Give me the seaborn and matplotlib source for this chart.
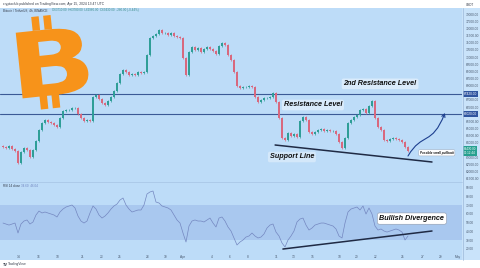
import numpy as np
import pandas as pd
import matplotlib
matplotlib.use("Agg")
import matplotlib.pyplot as plt
import matplotlib.transforms as mtrans
from matplotlib.patches import Rectangle, FancyArrowPatch, PathPatch
from matplotlib.path import Path
from matplotlib.textpath import TextPath
from matplotlib.font_manager import FontProperties
from matplotlib.lines import Line2D
import seaborn as sns

# ---- data -----------------------------------------------------------------
first_open = 63800
close = [
    63710, 63640, 63780, 63570, 63430, 62590, 63360, 63640, 63500, 63010,
    63500, 64130, 64900, 65390, 65600, 65460, 65390, 65250, 65110, 65740,
    66230, 66300, 66300, 66440, 66440, 66020, 65740, 65530, 65600, 65530,
    67210, 67350, 67070, 66790, 66650, 66930, 67210, 67630, 68190, 68820,
    69100, 68960, 68750, 68820, 68750, 68960, 68890, 68960, 70150, 71340,
    71480, 71620, 71900, 71690, 71690, 71550, 71690, 71480, 71410, 71340,
    69940, 68750, 70360, 70710, 70500, 70640, 70360, 70570, 70710, 70570,
    70430, 70220, 70780, 70990, 70850, 70150, 69800, 68960, 67980, 67840,
    67910, 67910, 67980, 67910, 67210, 66860, 67000, 67140, 67140, 67210,
    67490, 66860, 65740, 64340, 64200, 64690, 64480, 64620, 64410, 65530,
    65810, 65600, 64760, 64620, 64760, 64900, 64970, 64830, 64900, 64830,
    64830, 64620, 64060, 63640, 64340, 65390, 65600, 65810, 65950, 66300,
    66370, 66090, 66580, 66930, 65740, 65110, 64900, 64200, 64130, 64270,
    64340, 64270, 64200, 64060, 63710, 63430,
]
rsi = [
    49.4, 48.3, 47.1, 48.3, 49.4, 38.0, 48.3, 51.7, 52.9, 48.3,
    50.6, 58.6, 63.1, 60.9, 62.0, 60.9, 59.7, 58.6, 56.3, 62.0,
    65.4, 67.7, 68.9, 70.0, 66.6, 57.4, 51.7, 49.4, 51.7, 60.9,
    68.9, 65.4, 58.6, 55.1, 57.4, 60.9, 65.4, 68.9, 71.1, 75.7,
    78.0, 70.0, 65.4, 62.0, 63.1, 64.3, 64.3, 70.0, 82.6, 84.9,
    86.0, 73.4, 72.3, 68.9, 67.7, 66.6, 64.3, 58.6, 52.9, 49.4,
    38.0, 27.7, 46.0, 51.7, 52.9, 51.7, 51.7, 50.6, 52.9, 55.1,
    49.4, 44.9, 55.1, 56.3, 51.7, 44.9, 40.3, 32.3, 24.3, 27.7,
    30.0, 33.4, 34.6, 38.0, 34.6, 32.3, 33.4, 36.9, 43.7, 47.1,
    48.3, 39.1, 34.6, 26.6, 22.0, 30.0, 34.6, 40.3, 50.6, 54.0,
    55.1, 47.1, 41.4, 43.7, 47.1, 48.3, 49.4, 49.4, 48.3, 47.1,
    46.0, 42.6, 34.6, 32.3, 49.4, 62.0, 65.4, 66.6, 67.7, 64.3,
    68.9, 59.7, 66.6, 59.7, 46.0, 41.4, 42.6, 40.3, 39.1, 40.3,
    41.4, 42.6, 41.4, 39.1, 30.0, 34.6,
]
resistance_2nd = 67420
resistance_1st = 66020
support_x = [90.7, 143.0]
support_y = [63850, 62660]
divergence_x = [93.3, 143.0]
divergence_y = [19.7, 40.3]
pullback_x = [135.0, 139.7, 143.0, 147.3]
pullback_y = [63080, 64760, 63780, 66090]
time_pos = [5.3, 11.7, 18, 26.7, 32.7, 39, 48.3, 54.3, 60, 69.7, 75.7,
            81.7, 91, 97, 103.3, 112, 118, 124.3, 133.3, 139.7, 145.7, 151.7]
time_labels = ["14", "16", "18", "21", "23", "25", "28", "30", "Apr", "4", "6",
               "8", "11", "13", "15", "18", "20", "22", "25", "27", "29", "May"]

# ---- style ----------------------------------------------------------------
sns.set_theme(style="white")
plt.rcParams["font.family"] = ["Liberation Sans", "DejaVu Sans"]

BG = "#bddcf8"
SCALE_BG = "#c9e3fa"
BAND = "#a9c8ef"
GREEN = "#2f9e97"
RED = "#d8687e"
LEVEL = "#3b5a96"
DARK = "#1f2a44"
ORANGE = "#f7931a"
WICK = 70

W, H = 480, 268
def fx(px):
    return px / W
def fy(py):
    return 1 - py / H

fig = plt.figure(figsize=(4.8, 2.68), dpi=100)
fig.patch.set_facecolor("white")
fig.add_artist(Rectangle((0, fy(260)), 1, 252 / H, transform=fig.transFigure,
                         fc=BG, ec="none", zorder=-10))
fig.add_artist(Rectangle((fx(462), fy(260)), 18 / W, 252 / H, transform=fig.transFigure,
                         fc=SCALE_BG, ec="none", zorder=-9))
fig.add_artist(Line2D([fx(462.5)] * 2, [fy(8), fy(260)], transform=fig.transFigure,
                      color="#9db9d8", lw=0.5))

ax = fig.add_axes([0, fy(182), 462 / W, 174 / H])
ax2 = fig.add_axes([0, fy(252), 462 / W, 70 / H], sharex=ax)
for a in (ax, ax2):
    a.set_facecolor("none")
    for s in a.spines.values():
        s.set_visible(False)

n = len(close)
df = pd.DataFrame({"i": np.arange(n), "close": close, "rsi": rsi})
df["open"] = [first_open] + close[:-1]
lo = np.minimum(df.open, df.close)
hi = np.maximum(df.open, df.close)
colors = np.where(df.close >= df.open, GREEN, RED)

# candles
ax.vlines(df.i, lo - WICK, hi + WICK, colors=colors, lw=0.5, zorder=2)
ax.bar(df.i, np.maximum(hi - lo, 25), bottom=lo, width=0.6, color=colors,
       linewidth=0, zorder=3)

ax.set_xlim(-1, 153)
ax.set_ylim(61260, 73440)

# horizontal levels
for lvl in (resistance_2nd, resistance_1st):
    ax.axhline(lvl, color=LEVEL, lw=0.8, zorder=1)
ax.plot(support_x, support_y, color=DARK, lw=1.1, zorder=4)

# projected move
verts = list(zip(pullback_x, pullback_y))
path = Path(verts, [Path.MOVETO, Path.CURVE4, Path.CURVE4, Path.CURVE4])
ax.add_patch(FancyArrowPatch(path=path, arrowstyle="->,head_length=2.2,head_width=1.2",
                             color="#1d3f8f", lw=0.8, zorder=5))

lab = dict(family=["Liberation Sans", "DejaVu Sans"], weight="bold", style="italic",
           color="#111111", ha="center", va="center", zorder=6)
ax.text(125.7, 68130, "2nd Resistance Level", fontsize=5.2,
        bbox=dict(boxstyle="round,pad=0.25", fc="white", ec="none", alpha=0.45), **lab)
ax.text(103.3, 66650, "Resistance Level", fontsize=5.2,
        bbox=dict(boxstyle="round,pad=0.25", fc="white", ec="none", alpha=0.45), **lab)
ax.text(96.3, 63010, "Support Line", fontsize=5.2,
        bbox=dict(boxstyle="round,pad=0.25", fc="white", ec="none", alpha=0.35), **lab)
ax.text(144.6, 63300, "Possible small pullback", fontsize=2.2,
        family=["Liberation Sans", "DejaVu Sans"], weight="bold", style="italic",
        color="#111111", ha="center", va="center", zorder=6,
        bbox=dict(boxstyle="round,pad=0.35", fc="white", ec="#9aa4b5", lw=0.3))

# price scale (plain ticks are left out where a highlighted price sits)
highlights = [resistance_2nd, resistance_1st, close[-1]]
price_ticks = [v for v in np.arange(61500, 73001, 500)
               if min(abs(v - h) for h in highlights) > 380]
ax.yaxis.tick_right()
ax.set_yticks(price_ticks)
ax.set_yticklabels([f"{v:.2f}" for v in price_ticks])
ax.tick_params(axis="y", length=0, pad=2.5, labelsize=2.3, colors="#4a5a70")
ax.tick_params(axis="x", length=0, labelbottom=False)
ax.set_xlabel("")
ax.set_ylabel("")
blend = mtrans.blended_transform_factory(ax.transAxes, ax.transData)
for lvl in (resistance_2nd, resistance_1st):
    ax.text(1.004, lvl, f"{lvl:.2f}", transform=blend, fontsize=2.3, color="white",
            ha="left", va="center", clip_on=False,
            bbox=dict(boxstyle="square,pad=0.3", fc="#2f55a0", ec="none"))
ax.text(1.004, close[-1], f"{close[-1]:.2f}\n01:12:44", transform=blend, fontsize=2.2,
        color="white", ha="left", va="center", clip_on=False, linespacing=1.1,
        bbox=dict(boxstyle="square,pad=0.35", fc="#26a08f", ec="none"))

# RSI pane
ax2.axhspan(30, 70, color=BAND, lw=0, zorder=0)
sns.lineplot(data=df, x="i", y="rsi", ax=ax2, color="#7487c0", lw=0.5, zorder=3)
ax2.plot(divergence_x, divergence_y, color=DARK, lw=1.1, zorder=4)
ax2.text(136.3, 54.5, "Bullish Divergence", fontsize=5.2,
         bbox=dict(boxstyle="round,pad=0.3", fc="white", ec="#8e98aa", lw=0.4), **lab)
ax2.set_ylim(16.3, 96.3)
ax2.yaxis.tick_right()
ax2.set_yticks(np.arange(20, 91, 10))
ax2.set_yticklabels([f"{v:.2f}" for v in np.arange(20, 91, 10)])
ax2.tick_params(axis="y", length=0, pad=2.5, labelsize=2.3, colors="#4a5a70")
ax2.set_xticks(time_pos)
ax2.set_xticklabels(time_labels)
ax2.tick_params(axis="x", length=0, pad=2.0, labelsize=2.3, colors="#4a5a70")
ax2.set_xlabel("")
ax2.set_ylabel("")

# pane separator
fig.add_artist(Line2D([0, fx(462)], [fy(182)] * 2, transform=fig.transFigure,
                      color="#a6c3e3", lw=0.5))

# large bitcoin sign, built in pixel units and tilted slightly
glyph = TextPath((0, 0), "B", size=1, prop=FontProperties(family="DejaVu Sans", weight="bold"))
gb = glyph.get_extents()
body = mtrans.Affine2D().translate(-gb.x0, -gb.y0).scale(68 / gb.width, 66 / gb.height)
sign_place = mtrans.Affine2D().translate(-34, -33).rotate_deg(6).translate(53, H - 62)
fig.add_artist(PathPatch(body.transform_path(glyph), fc=ORANGE, ec="none",
                         transform=sign_place + mtrans.IdentityTransform(), zorder=1))
for bx, by in [(17, 66), (29, 66), (17, -13), (29, -13)]:
    fig.add_artist(Rectangle((bx, by), 7.5, 14, fc=ORANGE, ec="none",
                             transform=sign_place + mtrans.IdentityTransform(), zorder=1))

# small captions
small = dict(family=["Liberation Sans", "DejaVu Sans"], color="#333a48")
fig.text(fx(3), fy(4), "cryptoclub published on TradingView.com, Apr 15, 2024 13:47 UTC",
         fontsize=2.4, va="center", **small)
fig.text(fx(3), fy(10.5), "Bitcoin / TetherUS, 4h, BINANCE", fontsize=2.2, va="center", **small)
fig.text(fx(52), fy(10.5), "O63710.00  H63780.00  L62960.00  C63430.00  -280.00 (-0.44%)",
         fontsize=2.2, va="center", family=["Liberation Sans", "DejaVu Sans"], color="#3c8d8a")
fig.text(fx(3), fy(186), "RSI 14 close", fontsize=2.2, va="center", **small)
fig.text(fx(21), fy(186), "34.60  46.04", fontsize=2.2, va="center",
         family=["Liberation Sans", "DejaVu Sans"], color="#6f84bf")
fig.text(fx(466), fy(5), "USDT", fontsize=2.2, va="center", **small)
fig.text(fx(3), fy(264.5), "TV", fontsize=2.8, weight="bold", va="center", **small)
fig.text(fx(8), fy(264.5), "TradingView", fontsize=2.4, va="center", **small)

fig.savefig("out.png", dpi=100, facecolor=fig.get_facecolor())
